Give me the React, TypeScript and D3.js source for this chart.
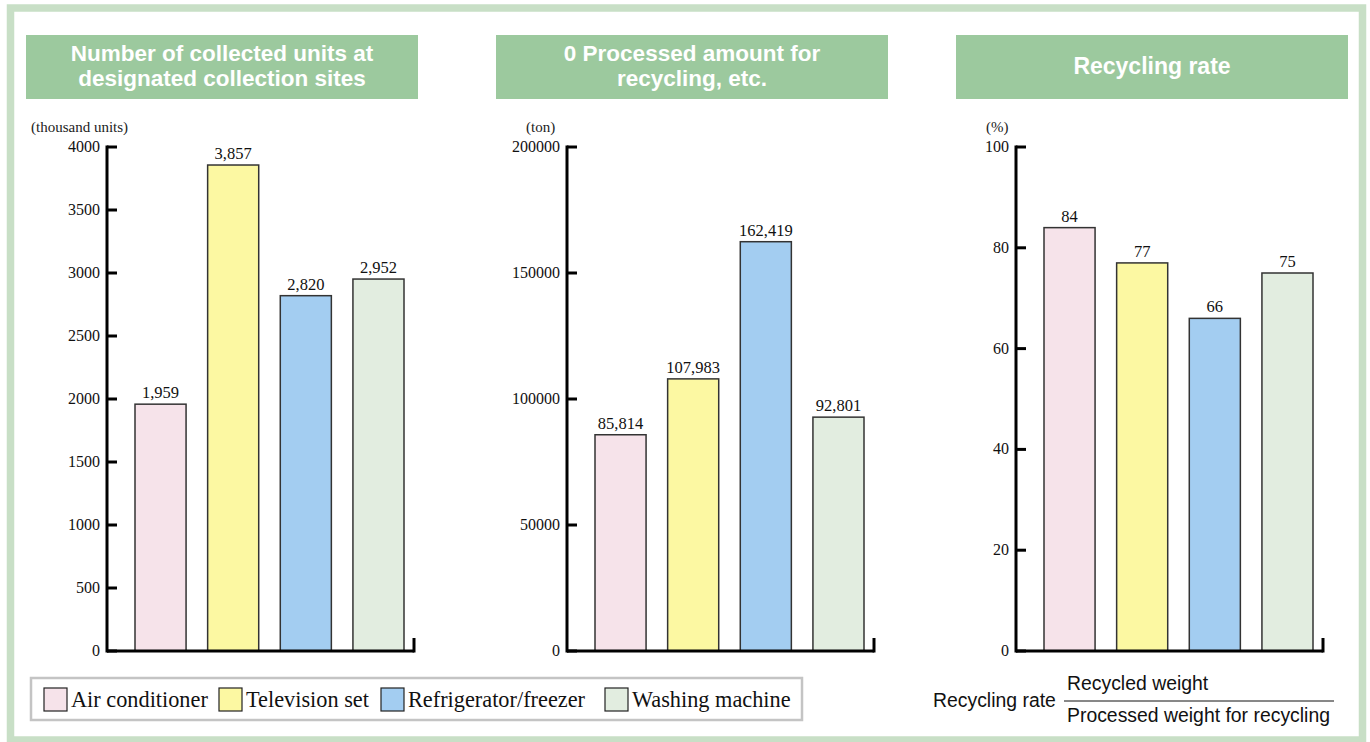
import React from "react";
import * as d3 from "d3";

const categories = ["Air conditioner", "Television set", "Refrigerator/freezer", "Washing machine"];
const colors = ["#f6e3ea", "#fcf8a2", "#a3cdf1", "#e2ede0"];

const unitsValues = [1959, 3857, 2820, 2952];
const unitsTicks = [0, 500, 1000, 1500, 2000, 2500, 3000, 3500, 4000];

const tonValues = [85814, 107983, 162419, 92801];
const tonTicks = [0, 50000, 100000, 150000, 200000];

const rateValues = [84, 77, 66, 75];
const rateTicks = [0, 20, 40, 60, 80, 100];

const panels = [
  { title: ["Number of collected units at", "designated collection sites"], unit: "(thousand units)", values: unitsValues, ticks: unitsTicks, max: 4000, boxX: 26, axisX: 107, unitX: 31 },
  { title: ["0 Processed amount for", "recycling, etc."], unit: "(ton)", values: tonValues, ticks: tonTicks, max: 200000, boxX: 496, axisX: 567, unitX: 526 },
  { title: ["Recycling rate"], unit: "(%)", values: rateValues, ticks: rateTicks, max: 100, boxX: 956, axisX: 1016, unitX: 986 },
];

const fmt = d3.format(",");
const serif = "'Liberation Serif', 'Times New Roman', serif";
const sans = "'Liberation Sans', Arial, Helvetica, sans-serif";

const Y_TOP = 147;
const Y_BOT = 651;

function Panel({ p }: { p: typeof panels[number] }) {
  const y = d3.scaleLinear().domain([0, p.max]).range([Y_BOT, Y_TOP]);
  const x = d3.scaleBand<string>().domain(categories).range([p.axisX + 28, p.axisX + 297]).paddingInner(0.297).paddingOuter(0);
  const baseEnd = p.axisX + 307;
  return (
    <g>
      <rect x={p.boxX} y={35} width={392} height={64} fill="#9cc99e" />
      {p.title.length === 2 ? (
        <>
          <text x={p.boxX + 196} y={61} textAnchor="middle" fill="#fff" fontFamily={sans} fontWeight="bold" fontSize={22.5}>{p.title[0]}</text>
          <text x={p.boxX + 196} y={86} textAnchor="middle" fill="#fff" fontFamily={sans} fontWeight="bold" fontSize={22.5}>{p.title[1]}</text>
        </>
      ) : (
        <text x={p.boxX + 196} y={74} textAnchor="middle" fill="#fff" fontFamily={sans} fontWeight="bold" fontSize={23}>{p.title[0]}</text>
      )}
      <text x={p.unitX} y={132} fontFamily={serif} fontSize={15} fill="#222">{p.unit}</text>
      {p.values.map((v, i) => (
        <g key={i}>
          <rect x={x(categories[i])} y={y(v)} width={x.bandwidth()} height={Y_BOT - y(v)} fill={colors[i]} stroke="#333" strokeWidth={1.5} />
          <text x={(x(categories[i]) as number) + x.bandwidth() / 2} y={y(v) - 6} textAnchor="middle" fontFamily={serif} fontSize={16.5} fill="#111">{fmt(v)}</text>
        </g>
      ))}
      {p.ticks.map((t) => (
        <g key={t}>
          <line x1={p.axisX} x2={p.axisX + 10} y1={y(t)} y2={y(t)} stroke="#000" strokeWidth={3} />
          <text x={p.axisX - 7} y={y(t) + 5} textAnchor="end" fontFamily={serif} fontSize={16} fill="#111">{t}</text>
        </g>
      ))}
      <line x1={p.axisX} x2={p.axisX} y1={Y_TOP - 1.5} y2={Y_BOT + 1.5} stroke="#000" strokeWidth={3} />
      <line x1={p.axisX} x2={baseEnd} y1={Y_BOT} y2={Y_BOT} stroke="#000" strokeWidth={3} />
      <line x1={baseEnd} x2={baseEnd} y1={Y_BOT - 13} y2={Y_BOT + 1.5} stroke="#000" strokeWidth={3} />
    </g>
  );
}

const legendX = [44, 219, 381, 605];

export default function App() {
  return (
    <div style={{ position: "absolute", left: 0, top: 0 }}>
      <svg width={1370} height={742} style={{ display: "block", background: "#fff" }}>
        <rect x={10.5} y={8} width={1352} height={732} fill="none" stroke="#c8dfc6" strokeWidth={7.5} />
        {panels.map((p, i) => <Panel key={i} p={p} />)}
        <rect x={31} y={678} width={771} height={42} fill="#fff" stroke="#c4c4c4" strokeWidth={2.5} />
        {categories.map((c, i) => (
          <g key={c}>
            <rect x={legendX[i]} y={688} width={23} height={23} fill={colors[i]} stroke="#222" strokeWidth={1.2} />
            <text x={legendX[i] + 27} y={707} fontFamily={serif} fontSize={22.3} fill="#111">{c}</text>
          </g>
        ))}
        <text x={933} y={707} fontFamily={sans} fontSize={19.4} fill="#111">Recycling rate</text>
        <text x={1067} y={690} fontFamily={sans} fontSize={19.4} fill="#111">Recycled weight</text>
        <line x1={1064} x2={1334} y1={701} y2={701} stroke="#111" strokeWidth={1} />
        <text x={1067} y={722} fontFamily={sans} fontSize={19.4} fill="#111">Processed weight for recycling</text>
      </svg>
    </div>
  );
}
